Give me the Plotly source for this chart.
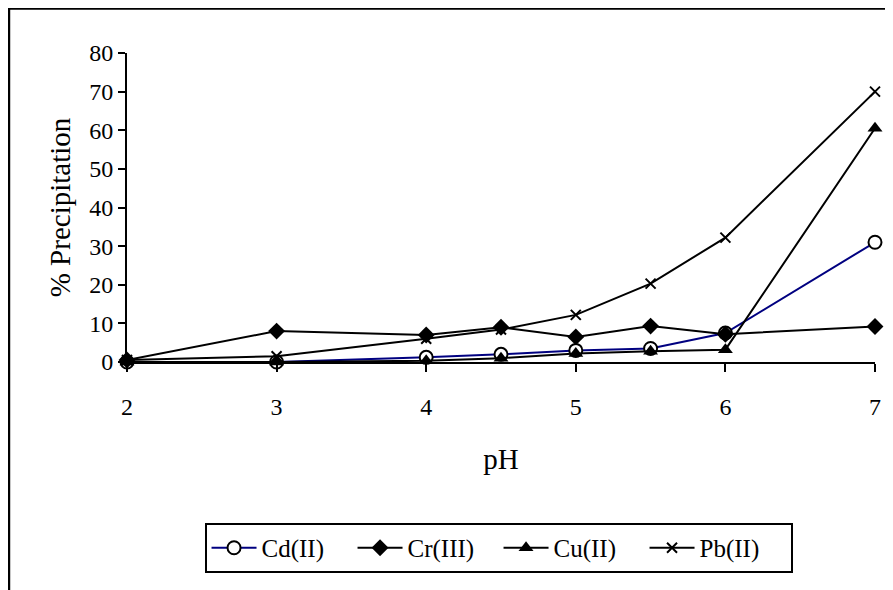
import plotly.graph_objects as go

ph = [2, 3, 4, 4.5, 5, 5.5, 6, 7]
cd = [0, 0, 1.2, 2.0, 3.0, 3.5, 7.5, 31]
cr = [0.5, 8.0, 7.0, 9.0, 6.5, 9.3, 7.2, 9.2]
cu = [0, 0, 0.3, 1.0, 2.2, 2.8, 3.2, 60.5]
pb = [0.5, 1.5, 6.0, 8.4, 12.2, 20.3, 32.2, 70]

font = "Liberation Serif, Times New Roman, serif"

fig = go.Figure()
fig.add_trace(go.Scatter(x=ph, y=cd, name="Cd(II)", mode="lines+markers",
                         line=dict(color="#000080", width=2),
                         marker=dict(symbol="circle", size=13, color="white",
                                     line=dict(color="black", width=2))))
fig.add_trace(go.Scatter(x=ph, y=cr, name="Cr(III)", mode="lines+markers",
                         line=dict(color="black", width=2),
                         marker=dict(symbol="diamond", size=13, color="black")))
fig.add_trace(go.Scatter(x=ph, y=cu, name="Cu(II)", mode="lines+markers",
                         line=dict(color="black", width=2),
                         marker=dict(symbol="triangle-up", size=13, color="black")))
fig.add_trace(go.Scatter(x=ph, y=pb, name="Pb(II)", mode="lines+markers",
                         line=dict(color="black", width=2),
                         marker=dict(symbol="x-thin", size=10,
                                     line=dict(color="black", width=2))))
fig.update_traces(cliponaxis=False)

# the page puts the figure 8px in from the top-left corner, so sizes allow for it
fig.update_layout(
    width=885, height=582,
    margin=dict(l=119, r=15, t=45, b=228),
    paper_bgcolor="white", plot_bgcolor="white",
    font=dict(family=font, size=24, color="black"),
    showlegend=True,
    legend=dict(orientation="h", x=0.4967, y=-0.521, xanchor="center", yanchor="top",
                bordercolor="black", borderwidth=2, font=dict(size=25),
                itemwidth=45, entrywidth=86, traceorder="normal"),
    # outer chart frame (left and top visible, rest cropped)
    shapes=[dict(type="rect", xref="paper", yref="paper",
                 x0=(0.5 - 119) / 751, x1=(900 - 119) / 751,
                 y0=(354 - 600) / 309, y1=(354 - 0.5) / 309,
                 line=dict(color="black", width=2.5), layer="below")],
)
fig.update_xaxes(range=[2, 7], dtick=1, tick0=2, showgrid=False, zeroline=False,
                 showline=True, linecolor="black", linewidth=2,
                 ticks="outside", ticklen=8, tickwidth=2, tickcolor="black",
                 ticklabelstandoff=14,
                 title=dict(text="pH", standoff=30))
fig.update_yaxes(range=[0, 80], dtick=10, showgrid=False, zeroline=False,
                 showline=True, linecolor="black", linewidth=2,
                 ticks="outside", ticklen=7, tickwidth=2, tickcolor="black",
                 title=dict(text="% Precipitation", standoff=10))

fig.write_html("out.html")
